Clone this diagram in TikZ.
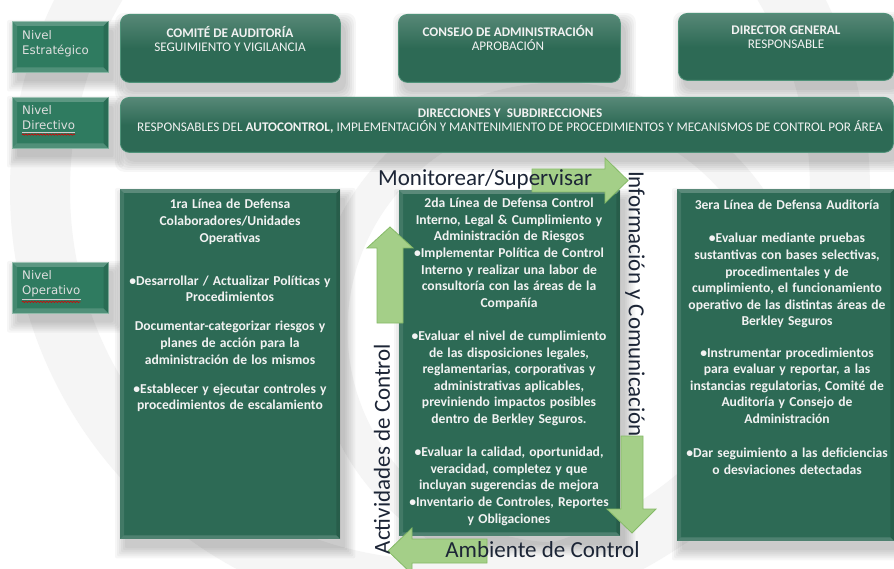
\documentclass[tikz,border=0pt]{standalone}
\usepackage{fontspec}
\setmainfont{Carlito}
\newfontfamily\verdfont{DejaVu Sans}
\usetikzlibrary{decorations.pathmorphing}
\pgfdeclarelayer{bg}
\pgfsetlayers{bg,main}
\definecolor{boxg}{HTML}{2D6A55}
\definecolor{boxrim}{HTML}{4F9279}
\definecolor{nivg}{HTML}{2F7B60}
\definecolor{arrfill}{HTML}{A4CF88}
\definecolor{arrline}{HTML}{85BA67}
\definecolor{txtw}{HTML}{F2F2F2}
\definecolor{labc}{HTML}{1C2536}
\definecolor{wm}{HTML}{F5F5F5}

\newcommand\bodyfnt{\fontsize{13.6}{16.6}\selectfont\bfseries\spaceskip 4.2pt plus 1pt minus 1pt\relax}
\newcommand\hdrfnt{\fontsize{13.2}{14}\selectfont\lineskiplimit -20pt\lineskip 0pt\relax}

\newcommand\boxshadow[2]{%
 \begin{pgfonlayer}{bg}
 \foreach \r in {0,2,4,6,8,10}{
   \fill[black,opacity=.035,rounded corners=#2] ([shift={(5-\r,9-\r)}]#1.north west) rectangle ([shift={(5+\r,9+\r)}]#1.south east);}
 \end{pgfonlayer}}

\newcommand\boxbevel[2]{%
 \fill[white,opacity=.22] (#1.north west) -- (#1.north east) -- ([shift={(-#2,#2)}]#1.north east) -- ([shift={(#2,#2)}]#1.north west) -- cycle;
 \fill[white,opacity=.10] (#1.north west) -- ([shift={(#2,#2)}]#1.north west) -- ([shift={(#2,-#2)}]#1.south west) -- (#1.south west) -- cycle;
 \fill[black,opacity=.12] (#1.north east) -- ([shift={(-#2,#2)}]#1.north east) -- ([shift={(-#2,-#2)}]#1.south east) -- (#1.south east) -- cycle;
 \fill[white,opacity=.16] (#1.south west) -- ([shift={(#2,-#2)}]#1.south west) -- ([shift={(-#2,-#2)}]#1.south east) -- (#1.south east) -- cycle;}

\tikzset{
 nivbox/.style={fill=nivg, draw=boxrim!70!white, line width=0.5, anchor=north west, inner sep=0, minimum width=96, minimum height=51},
 bigbox/.style={fill=boxg, anchor=north west, inner sep=0},
 topbox/.style={top color=boxg!80!white, bottom color=boxg, middle color=boxg, draw=boxrim, line width=0.8, rounded corners=9, anchor=north west, inner sep=0},
 nivtxt/.style={anchor=north west, inner sep=0, align=left, text=txtw!92!black, font=\verdfont\fontsize{11.8}{15}\selectfont},
 hdrtxt/.style={anchor=north, inner sep=0, align=center, text=txtw, font=\hdrfnt},
 bodytxt/.style={anchor=north, inner sep=0, align=center, text=txtw, font=\bodyfnt},
 biglab/.style={inner sep=0, text=labc, font=\fontsize{23}{26}\selectfont},
 blockarrow/.style={fill=arrfill, draw=arrline, line width=0.8, line join=miter},
 squiggle/.style={draw=red!85!black, line width=0.6, decorate, decoration={snake, amplitude=0.7, segment length=3}},
 uline/.style={draw=txtw!85!black, line width=0.6},
}

\begin{document}
\begin{tikzpicture}[x=1pt,y=-1pt]
\useasboundingbox (0,0) rectangle (894,569);
\begin{pgfonlayer}{bg}
\fill[white] (0,0) rectangle (894,569);
\begin{scope}
\clip (0,0) rectangle (894,569);
\draw[wm, line width=60] (440,190) circle[radius=400];
\draw[wm, line width=35] (560,330) circle[radius=230];
\end{scope}
\end{pgfonlayer}

% level boxes
\node[nivbox] (nE) at (12,21) {};
\node[nivbox] (nD) at (12,97) {};
\node[nivbox] (nO) at (12,262) {};
% top boxes
\node[topbox, minimum width=220, minimum height=68] (com) at (120,14) {};
\node[topbox, minimum width=222, minimum height=68] (con) at (398,14) {};
\node[topbox, minimum width=215, minimum height=67] (dg) at (678,13) {};
\node[topbox, minimum width=773, minimum height=55] (dirs) at (120,97) {};
% lines of defense
\node[bigbox, minimum width=220, minimum height=350] (l1) at (120,189) {};
\node[bigbox, minimum width=221, minimum height=346] (l2) at (399,190) {};
\node[bigbox, minimum width=217, minimum height=352] (l3) at (677,189) {};

\boxshadow{nE}{2}\boxshadow{nD}{2}\boxshadow{nO}{2}
\boxshadow{com}{9}\boxshadow{con}{9}\boxshadow{dg}{9}\boxshadow{dirs}{9}
\boxshadow{l1}{2}\boxshadow{l2}{2}\boxshadow{l3}{2}

\boxbevel{nE}{5}\boxbevel{nD}{5}\boxbevel{nO}{5}
\boxbevel{l1}{4}\boxbevel{l2}{4}\boxbevel{l3}{4}

% level labels
\node[nivtxt] (tE) at (22,28.5) {\strut Nivel\\Estratégico};
\node[nivtxt] (tD) at (22,103.5) {\strut Nivel\\Directivo};
\node[nivtxt] (tO) at (22,268.5) {\strut Nivel\\Operativo};
\draw[uline] ([yshift=-2.5]tD.south west) -- ([yshift=-2.5]tD.south east);
\draw[squiggle] ([yshift=-5]tD.south west) -- ([yshift=-5]tD.south east);
\draw[uline] ([yshift=-2.5]tO.south west) -- ([yshift=-2.5]tO.south east);
\draw[squiggle] ([yshift=-5]tO.south west) -- ([yshift=-5]tO.south east);

% header texts
\node[hdrtxt] (tcom) at (230,26.7) {\strut\textbf{COMITÉ DE AUDITORÍA}\\SEGUIMIENTO Y VIGILANCIA};
\node[hdrtxt] (tcon) at (508,25.7) {\strut\textbf{CONSEJO DE ADMINISTRACIÓN}\\APROBACIÓN};
\node[hdrtxt] (tdg) at (786,24.7) {\strut\textbf{DIRECTOR GENERAL}\\RESPONSABLE};
\node[hdrtxt] (tdirs) at (510,107.7) {\strut\textbf{DIRECCIONES Y\ \ SUBDIRECCIONES}\\RESPONSABLES DEL \textbf{AUTOCONTROL,} IMPLEMENTACIÓN Y MANTENIMIENTO DE PROCEDIMIENTOS Y MECANISMOS DE CONTROL POR ÁREA};

% body texts
\node[bodytxt] (t1) at (230,197) {\strut 1ra Línea de Defensa\\Colaboradores/Unidades\\Operativas\\[26.5pt]•Desarrollar / Actualizar Políticas y\\Procedimientos\\[12.5pt]Documentar-categorizar riesgos y\\planes de acción para la\\administración de los mismos\\[12.5pt]•Establecer y ejecutar controles y\\procedimientos de escalamiento};
\node[bodytxt] (t2) at (509,195.9) {\strut 2da Línea de Defensa Control\\Interno, Legal \& Cumplimiento y\\Administración de Riesgos\\•Implementar Política de Control\\Interno y realizar una labor de\\consultoría con las áreas de la\\Compañía\\[16.6pt]•Evaluar el nivel de cumplimiento\\de las disposiciones legales,\\reglamentarias, corporativas y\\administrativas aplicables,\\previniendo impactos posibles\\dentro de Berkley Seguros.\\[16.6pt]•Evaluar la calidad, oportunidad,\\veracidad, completez y que\\incluyan sugerencias de mejora\\•Inventario de Controles, Reportes\\y Obligaciones};
\node[bodytxt] (t3) at (787,197.9) {\strut 3era Línea de Defensa Auditoría\\[16.6pt]•Evaluar mediante pruebas\\sustantivas con bases selectivas,\\procedimentales y de\\cumplimiento, el funcionamiento\\operativo de las distintas áreas de\\Berkley Seguros\\[14.5pt]•Instrumentar procedimientos\\para evaluar y reportar, a las\\instancias regulatorias, Comité de\\Auditoría y Consejo de\\Administración\\[17.5pt]•Dar seguimiento a las deficiencias\\o desviaciones detectadas};

% block arrows
\draw[blockarrow] (377,323) -- (377,248) -- (367,248) -- (390,227) -- (413,248) -- (403,248) -- (403,323) -- cycle;
\draw[blockarrow] (532,169) -- (605,169) -- (605,158) -- (628,180.5) -- (605,203) -- (605,192) -- (532,192) -- cycle;
\draw[blockarrow] (621,436) -- (643,436) -- (643,509) -- (656,509) -- (632,533) -- (607,509) -- (621,509) -- cycle;
\draw[blockarrow] (487,539) -- (412,539) -- (412,528) -- (388,551) -- (412,574) -- (412,563) -- (487,563) -- cycle;

% cycle labels
\node[biglab, anchor=base west] (mon) at (378,186) {Monitorear/Supervisar};
\node[biglab, rotate=-90] (info) at (635,304) {Información y Comunicación};
\node[biglab, rotate=90] (act) at (382,449) {Actividades de Control};
\node[biglab] (amb) at (542.5,549.5) {Ambiente de Control};
\end{tikzpicture}
\end{document}
